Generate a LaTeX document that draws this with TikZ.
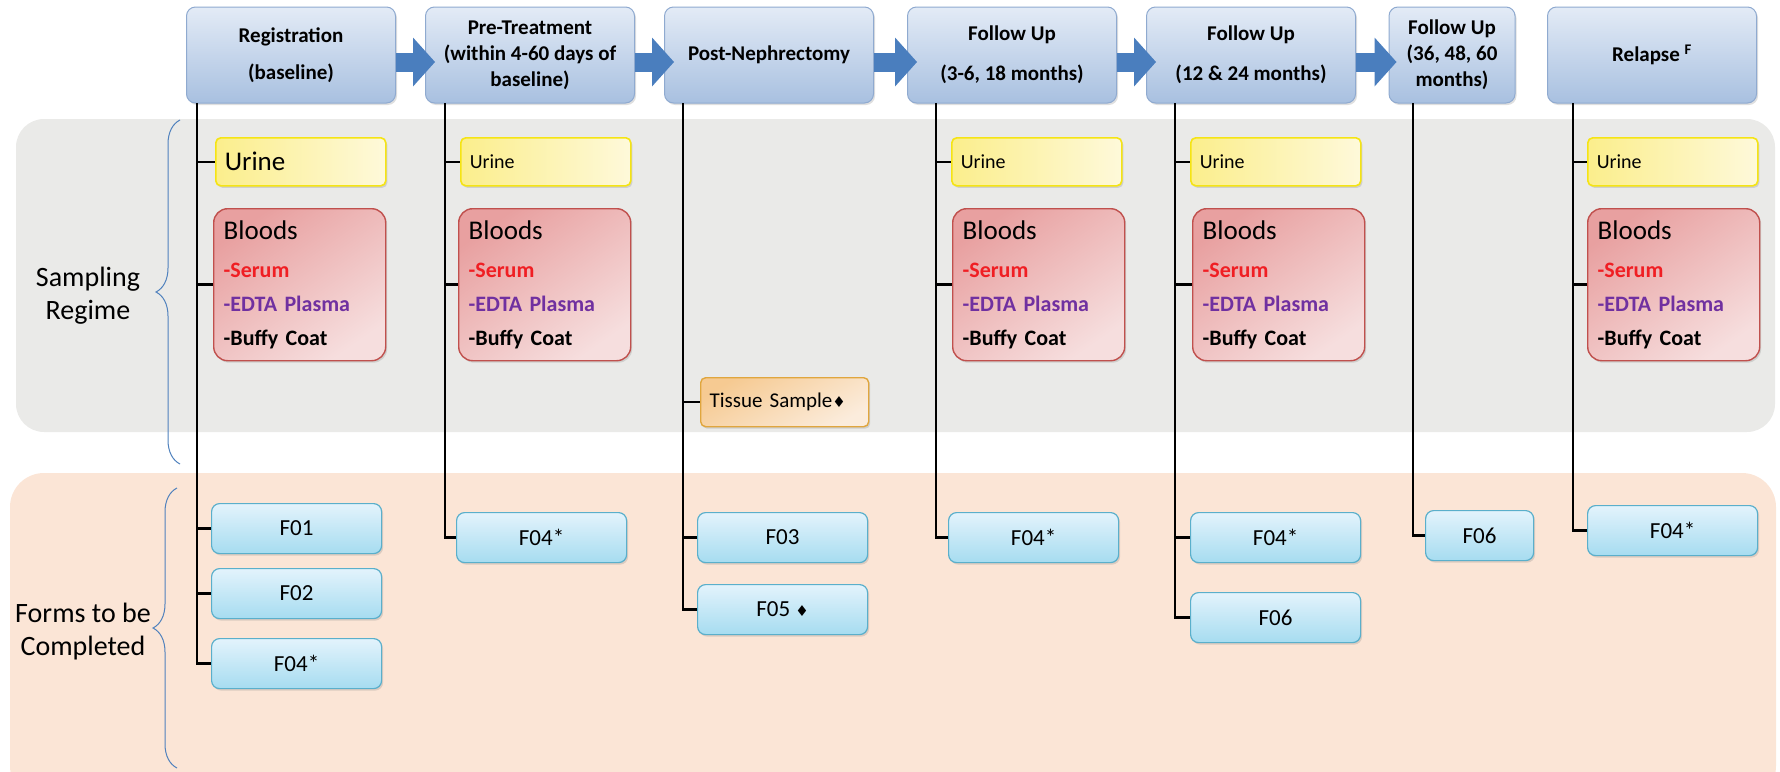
\documentclass[tikz,border=0pt]{standalone}
\usepackage{fontspec}
\setmainfont{Carlito}
\newfontfamily\symfont{DejaVu Sans}
\usepackage{xcolor}
\usetikzlibrary{arrows.meta,shadows,decorations.pathreplacing}

\definecolor{panelgray}{RGB}{234,234,232}
\definecolor{panelpeach}{RGB}{251,229,214}
\definecolor{hdrline}{RGB}{143,170,208}
\definecolor{hdrtop}{RGB}{227,235,246}
\definecolor{hdrbot}{RGB}{168,192,224}
\definecolor{arrowblue}{RGB}{74,126,190}
\definecolor{braceblue}{RGB}{79,129,189}
\definecolor{urineline}{RGB}{245,228,20}
\definecolor{urineleft}{RGB}{251,238,140}
\definecolor{urineright}{RGB}{254,249,218}
\definecolor{bloodline}{RGB}{192,80,77}
\definecolor{bloodtop}{RGB}{232,160,160}
\definecolor{bloodbot}{RGB}{246,222,222}
\definecolor{tissueline}{RGB}{224,166,62}
\definecolor{tissuetop}{RGB}{246,202,146}
\definecolor{tissuebot}{RGB}{251,236,220}
\definecolor{formline}{RGB}{90,175,203}
\definecolor{formtop}{RGB}{227,243,252}
\definecolor{formbot}{RGB}{166,220,240}
\definecolor{serumred}{RGB}{240,30,35}
\definecolor{edtapurple}{RGB}{112,48,160}

\newcommand\bloodtext{{\fontsize{27}{30}\selectfont Bloods}\\[4pt]
  {\bfseries\color{serumred}-Serum}\\
  {\bfseries\color{edtapurple}-EDTA Plasma}\\
  {\bfseries -Buffy Coat}}
\newcommand\suit{{\symfont\fontsize{15}{15}\selectfont ♦}}

\tikzset{
  boxshadow/.style={drop shadow={opacity=0.25,shadow xshift=1.5pt,shadow yshift=-2pt}},
  hdr/.style={draw=hdrline, line width=1pt, rounded corners=9pt, top color=hdrtop,
    bottom color=hdrbot, minimum width=209pt, minimum height=96pt, inner sep=2pt,
    align=center, font=\fontsize{21}{26}\selectfont\bfseries, boxshadow},
  urine/.style={draw=urineline, line width=1.6pt, rounded corners=5pt,
    left color=urineleft, right color=urineright, anchor=north west,
    minimum height=48pt, text width=152pt, inner xsep=9pt, align=left,
    font=\fontsize{20}{24}\selectfont, boxshadow},
  blood/.style={draw=bloodline, line width=1.4pt, rounded corners=14pt,
    top color=bloodtop, bottom color=bloodbot, shading angle=35, anchor=north west,
    minimum height=152pt, text width=152pt, inner xsep=10pt, align=left,
    font=\fontsize{22}{34}\selectfont, boxshadow},
  tissue/.style={draw=tissueline, line width=1.4pt, rounded corners=5pt,
    top color=tissuetop, bottom color=tissuebot, shading angle=30, anchor=north west,
    minimum width=168pt, minimum height=49pt, text width=150pt, inner xsep=9pt,
    align=left, font=\fontsize{21}{24}\selectfont, boxshadow},
  form/.style={draw=formline, line width=1.2pt, rounded corners=8pt, top color=formtop,
    bottom color=formbot, anchor=north west, minimum width=170pt, minimum height=50pt,
    font=\fontsize{23}{26}\selectfont, boxshadow},
  side/.style={align=center, font=\fontsize{28}{33}\selectfont},
  brace/.style={draw=braceblue, line width=1pt, decorate, decoration={brace,amplitude=24pt}},
  stem/.style={draw=black, line width=2.5pt},
  flow/.style={color=arrowblue, line width=19pt,
    -{Triangle[length=22pt,width=49pt,line width=0pt,fill=arrowblue]}}
}

\begin{document}
\begin{tikzpicture}[x=1pt,y=-1pt]
\useasboundingbox (0,0) rectangle (1780,771);
\clip (0,0) rectangle (1780,771);
%
\fill[panelgray, rounded corners=28pt] (16,119) rectangle (1775,432);
\fill[panelpeach, rounded corners=34pt] (10,473) rectangle (1776,800);
%
\node[side] (sampLbl) at (88,296) {Sampling\\Regime};
\node[side] (formLbl) at (83,632) {Forms to be\\Completed};
\draw[brace] (180,464) -- (180,120);
\draw[brace] (177,768) -- (177,488);
%
\node[hdr] (hReg) at (291,55) {Registration\\[11pt](baseline)};
\node[hdr] (hPre) at (530,55) {Pre-Treatment\\(within 4-60 days of\\baseline)};
\node[hdr] (hPost) at (769,55) {Post-Nephrectomy};
\node[hdr] (hFuA) at (1012,55) {Follow Up\\[14pt](3-6, 18 months)};
\node[hdr] (hFuB) at (1251,55) {Follow Up\\[14pt](12 \& 24 months)};
\node[hdr, minimum width=126pt] (hFuC) at (1452,55) {Follow Up\\(36, 48, 60\\months)};
\node[hdr] (hRel) at (1652,55) {Relapse \textsuperscript{F}};
%
\path
  ([yshift=-7pt]hReg.east) edge[flow] ([xshift=10pt,yshift=-7pt]hPre.west)
  ([yshift=-7pt]hPre.east) edge[flow] ([xshift=10pt,yshift=-7pt]hPost.west)
  ([yshift=-7pt]hPost.east) edge[flow] ([xshift=10pt,yshift=-7pt]hFuA.west)
  ([yshift=-7pt]hFuA.east) edge[flow] ([xshift=10pt,yshift=-7pt]hFuB.west)
  ([yshift=-7pt]hFuB.east) edge[flow] ([xshift=8pt,yshift=-7pt]hFuC.west);
%
\coordinate (cReg) at (197,103);
\coordinate (cPre) at (445,103);
\coordinate (cPost) at (683,103);
\coordinate (cFuA) at (936,103);
\coordinate (cFuB) at (1175,103);
\coordinate (cFuC) at (1413,103);
\coordinate (cRel) at (1573,103);
%
\node[urine, font=\fontsize{27}{30}\selectfont] (uReg) at (215,137) {Urine};
\node[urine] (uPre) at (460,137) {Urine};
\node[urine] (uFuA) at (951,137) {Urine};
\node[urine] (uFuB) at (1190,137) {Urine};
\node[urine] (uRel) at (1587,137) {Urine};
%
\node[blood] (bReg) at (213,208) {\bloodtext};
\node[blood] (bPre) at (458,208) {\bloodtext};
\node[blood] (bFuA) at (952,208) {\bloodtext};
\node[blood] (bFuB) at (1192,208) {\bloodtext};
\node[blood] (bRel) at (1587,208) {\bloodtext};
\node[tissue] (tPost) at (700,377) {Tissue Sample\suit};
%
\node[form] (fRegA) at (211,503) {F01};
\node[form] (fRegB) at (211,568) {F02};
\node[form] (fRegC) at (211,638) {F04*};
\node[form] (fPre) at (456,512) {F04*};
\node[form] (fPostA) at (697,512) {F03};
\node[form] (fPostB) at (697,584) {F05 \suit};
\node[form] (fFuA) at (948,512) {F04*};
\node[form] (fFuBA) at (1190,512) {F04*};
\node[form] (fFuBB) at (1190,592) {F06};
\node[form, minimum width=108pt] (fFuC) at (1425,510) {F06};
\node[form] (fRel) at (1587,505) {F04*};
%
\draw[stem] (cReg) |- (fRegC.west)
  (cReg |- uReg.west) -- (uReg.west)
  (cReg |- bReg.west) -- (bReg.west)
  (cReg |- fRegA.west) -- (fRegA.west)
  (cReg |- fRegB.west) -- (fRegB.west);
\draw[stem] (cPre) |- (fPre.west)
  (cPre |- uPre.west) -- (uPre.west)
  (cPre |- bPre.west) -- (bPre.west);
\draw[stem] (cPost) |- (fPostB.west)
  (cPost |- tPost.west) -- (tPost.west)
  (cPost |- fPostA.west) -- (fPostA.west);
\draw[stem] (cFuA) |- (fFuA.west)
  (cFuA |- uFuA.west) -- (uFuA.west)
  (cFuA |- bFuA.west) -- (bFuA.west);
\draw[stem] (cFuB) |- (fFuBB.west)
  (cFuB |- uFuB.west) -- (uFuB.west)
  (cFuB |- bFuB.west) -- (bFuB.west)
  (cFuB |- fFuBA.west) -- (fFuBA.west);
\draw[stem] (cFuC) |- (fFuC.west);
\draw[stem] (cRel) |- (fRel.west)
  (cRel |- uRel.west) -- (uRel.west)
  (cRel |- bRel.west) -- (bRel.west);
\end{tikzpicture}
\end{document}
